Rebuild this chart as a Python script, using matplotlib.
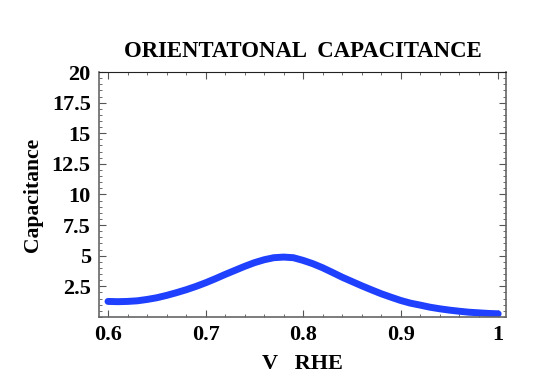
import numpy as np
import matplotlib.pyplot as plt
from matplotlib.ticker import MultipleLocator

# curve
v_rhe = [0.60, 0.61, 0.62, 0.63, 0.64, 0.65, 0.66, 0.67, 0.68, 0.69, 0.70,
         0.71, 0.72, 0.73, 0.74, 0.75, 0.76, 0.77, 0.78, 0.79, 0.80,
         0.81, 0.82, 0.83, 0.84, 0.85, 0.86, 0.87, 0.88, 0.89, 0.90,
         0.91, 0.92, 0.93, 0.94, 0.95, 0.96, 0.97, 0.98, 0.99, 1.00]
capacitance = [1.27, 1.25, 1.27, 1.32, 1.43, 1.57, 1.76, 1.98, 2.22, 2.49, 2.79,
               3.12, 3.47, 3.80, 4.13, 4.43, 4.67, 4.84, 4.89, 4.84, 4.62,
               4.35, 4.02, 3.64, 3.25, 2.90, 2.55, 2.22, 1.90, 1.62, 1.35,
               1.13, 0.97, 0.80, 0.67, 0.56, 0.47, 0.39, 0.34, 0.29, 0.26]
xticks = [0.6, 0.7, 0.8, 0.9, 1.0]
xtick_labels = ["0.6", "0.7", "0.8", "0.9", "1"]
yticks = [2.5, 5, 7.5, 10, 12.5, 15, 17.5, 20]
ytick_labels = ["2.5", "5", "7.5", "10", "12.5", "15", "17.5", "20"]

plt.rcParams["font.family"] = ["Liberation Serif", "DejaVu Serif"]
plt.rcParams["font.weight"] = "bold"

fig = plt.figure(figsize=(5.45, 3.82), dpi=100)
ax = fig.add_axes([0.1817, 0.1702, 0.7467, 0.6413])

ax.plot(v_rhe, capacitance, color="#2040ff", lw=5, solid_capstyle="round",
        solid_joinstyle="round")

ax.set_xlim(0.5908, 1.008)
ax.set_ylim(0, 20)
ax.set_xticks(xticks)
ax.set_xticklabels(xtick_labels)
ax.set_yticks(yticks)
ax.set_yticklabels(ytick_labels)
ax.xaxis.set_minor_locator(MultipleLocator(0.02))
ax.yaxis.set_minor_locator(MultipleLocator(0.5))
ax.tick_params(which="both", direction="in", top=True, right=True,
               labeltop=False, labelright=False, color="#555555")
ax.tick_params(which="major", length=5, width=0.8, labelsize=16, pad=6)
ax.tick_params(which="minor", length=2.5, width=0.6)
for lab in ax.get_xticklabels() + ax.get_yticklabels():
    lab.set_fontweight("bold")

for side in ["left", "bottom", "right"]:
    ax.spines[side].set_color("#666666")
    ax.spines[side].set_linewidth(1.2)
ax.spines["top"].set_color("#222222")

ax.set_title("ORIENTATONAL  CAPACITANCE", fontsize=16.4, fontweight="bold", pad=11)
ax.set_xlabel("V   RHE", fontsize=16, fontweight="bold", labelpad=6)
ax.set_ylabel("Capacitance", fontsize=15.6, fontweight="bold", labelpad=6)

fig.savefig("out.png", dpi=100)
